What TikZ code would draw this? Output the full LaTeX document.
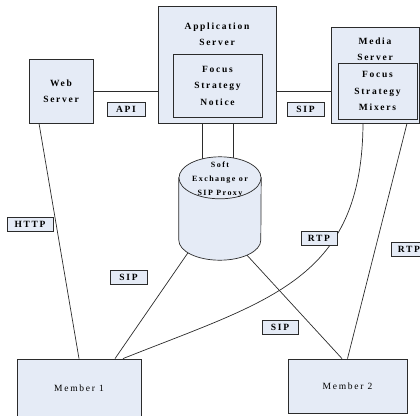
\documentclass[tikz,border=0pt]{standalone}
\usepackage{fontspec}
\setmainfont{Liberation Serif}[LetterSpace=18]
\usepackage{xcolor}
\definecolor{boxfill}{HTML}{E5EBF6}
\definecolor{edge}{HTML}{2B2B2B}
\usetikzlibrary{calc}

\begin{document}
\begin{tikzpicture}[x=1pt, y=-1pt,
      font=\fontsize{9.5}{16}\selectfont,
      server/.style={rectangle, draw=edge, fill=boxfill, line width=0.8pt,
                     inner sep=0pt, align=center, font=\fontsize{9.5}{16.5}\selectfont\bfseries},
      member/.style={server, font=\fontsize{9.5}{10}\selectfont},
      title/.style={inner sep=0pt, align=center, font=\fontsize{9.5}{16}\selectfont\bfseries},
      tag/.style={rectangle, draw=edge, fill=boxfill, line width=1pt, inner sep=0pt,
                  minimum height=14pt, font=\fontsize{9.5}{10}\selectfont\bfseries},
      link/.style={draw=edge, line width=0.7pt},
      cyl/.style={draw=edge, fill=boxfill, line width=0.7pt},
    ]
    \useasboundingbox (0,0) rectangle (420,415);

    \node[server, minimum width=64pt, minimum height=64pt]  (web)        at (61,91)      {Web\\Server};
    \node[server, minimum width=118pt, minimum height=117pt] (app)       at (217,64.5)   {};
    \node[title]                                            (apptitle)   at (217,34.5)   {Application\\Server};
    \node[server, minimum width=89pt, minimum height=63pt]  (appfocus)   at (217.5,85.5) {Focus\\Strategy\\Notice};
    \node[server, minimum width=88pt, minimum height=96pt]  (media)      at (375,75)     {};
    \node[title]                                            (mediatitle) at (375,49.5)   {Media\\Server};
    \node[server, minimum width=79pt, minimum height=56pt]  (mediafocus) at (377.5,91)   {Focus\\Strategy\\Mixers};
    \node[inner sep=0pt, minimum width=82pt, minimum height=103pt] (proxy) at (220,208.5) {};
    \node[member, minimum width=124pt, minimum height=59pt] (m1)         at (79,388.5)   {Member 1};
    \node[member, minimum width=119pt, minimum height=54pt] (m2)         at (347.5,386)  {Member 2};

    \draw[link] (web.east) -- (web.east -| app.west);
    \draw[link] (web.east -| app.east) -- (web.east -| media.west);
    \draw[link] ([xshift=-15pt]app.south) -- ([xshift=-18pt,yshift=-21pt]proxy.north);
    \draw[link] ([xshift=16pt]app.south) -- ([xshift=13pt,yshift=-21pt]proxy.north);
    \draw[link] ([xshift=-22pt]web.south) -- (m1.north);
    \draw[link] ([shift={(-32pt,7.5pt)}]proxy.south) -- ([xshift=36pt]m1.north);
    \draw[link] ([shift={(27pt,5pt)}]proxy.south) -- ([xshift=-5.5pt]m2.north);
    \draw[link] ([xshift=32pt]media.south) -- (m2.north);
    \draw[link] ([xshift=-12pt]media.south) .. controls (362,280) and (270,300) .. ([xshift=44pt]m1.north);

    \draw[cyl] ([yshift=-21pt]proxy.north west) -- ([yshift=20pt]proxy.south west)
      arc[start angle=180, end angle=360, x radius=41pt, y radius=20pt]
      -- ([yshift=-21pt]proxy.north east) -- cycle;
    \draw[cyl] ([yshift=-21pt]proxy.north) ellipse [x radius=41pt, y radius=21pt];
    \node[title, font=\fontsize{8}{14}\selectfont\bfseries] (proxytext) at (220,179.5) {Soft\\Exchange or\\SIP Proxy};

    \node[tag, minimum width=38pt] (api)  at (126,109.5)  {API};
    \node[tag, minimum width=37pt] (sipa) at (305.5,109.5) {SIP};
    \node[tag, minimum width=46pt] (http) at (30,224)     {HTTP};
    \node[tag, minimum width=37pt] (sipb) at (128.5,277)  {SIP};
    \node[tag, minimum width=36pt] (rtpa) at (319,238)    {RTP};
    \node[tag, minimum width=36pt] (rtpb) at (409,249)    {RTP};
    \node[tag, minimum width=36pt] (sipc) at (280,327)    {SIP};
  \end{tikzpicture}
\end{document}
